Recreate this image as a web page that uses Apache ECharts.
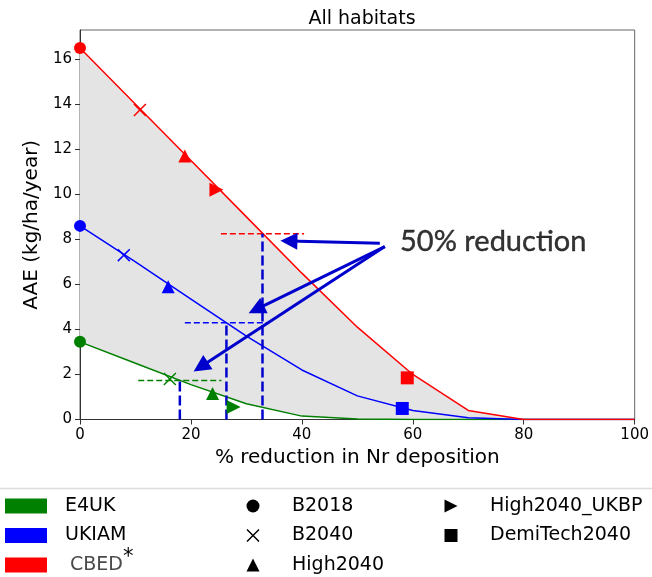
<!DOCTYPE html>
<html>
<head>
<meta charset="utf-8">
<script src="https://cdn.jsdelivr.net/npm/echarts@6/dist/echarts.min.js"></script>
<style>
  html, body { margin: 0; padding: 0; background: #fff; }
  #chart { width: 652px; height: 577px; }
</style>
</head>
<body>
<div id="chart"></div>
<script>
// % reduction in Nr deposition, sampled every 10%
const xs = [0, 10, 20, 30, 40, 50, 60, 70, 80, 90, 100];
// AAE (kg/ha/year) per model
const e4uk = [3.45, 2.5, 1.55, 0.7, 0.15, 0.02, 0, 0, 0, 0, 0];
const ukiam = [8.6, 7.0, 5.35, 3.7, 2.2, 1.05, 0.4, 0.08, 0, 0, 0];
const cbed = [16.5, 14.0, 11.5, 9.0, 6.5, 4.1, 2.0, 0.4, 0, 0, 0];

const models = ['E4UK', 'UKIAM', 'CBED'];
const modelColors = ['#008000', '#0000ff', '#ff0000'];
const modelValues = [e4uk, ukiam, cbed];

// scenario markers: [x, y] for E4UK, UKIAM, CBED (null = not shown)
const scenarios = ['B2018', 'B2040', 'High2040', 'High2040_UKBP', 'DemiTech2040'];
const b2018 = [[0, 3.45], [0, 8.6], [0, 16.5]];
const b2040 = [[16.2, 1.8], [7.9, 7.3], [10.8, 13.75]];
const high2040 = [[23.9, 1.15], [15.9, 5.9], [18.9, 11.7]];
const high2040Ukbp = [[27.7, 0.56], null, [24.6, 10.2]];
const demiTech2040 = [null, [58.1, 0.49], [59.0, 1.85]];
const scenarioPoints = [b2018, b2040, high2040, high2040Ukbp, demiTech2040];

// 50% reduction: x where AAE halves, and the half value
const halfX = [18.0, 26.4, 32.9];
const halfY = [1.73, 4.3, 8.25];
const halfSpan = 7.5;

// annotation arrows (data coords)
const arrowTails = [[54.05, 7.83], [54.95, 7.68], [54.95, 7.68]];
const arrowTips = [[37.66, 7.93], [31.78, 4.89], [21.77, 2.34]];
const noteText = '50% reduction';
const notePos = [57.7, 7.9];

const yTicks = [0, 2, 4, 6, 8, 10, 12, 14, 16];

const xMark = 'path://M0,0.8L0.8,0L5,4.2L9.2,0L10,0.8L5.8,5L10,9.2L9.2,10L5,5.8L0.8,10L0,9.2L4.2,5Z';
const rightTri = 'path://M0,0L10,5L0,10Z';
const scenarioSymbols = ['circle', xMark, 'triangle', rightTri, 'rect'];
const scenarioSizes = [12, 13, 13, 14, 13];

const chart = echarts.init(document.getElementById('chart'));

const series = [];

// grey band between CBED and E4UK
series.push({
  type: 'custom',
  name: 'band',
  silent: true,
  z: 1,
  data: [[0, 0]],
  renderItem: function (params, api) {
    const pts = [];
    xs.forEach(function (x, i) { pts.push(api.coord([x, cbed[i]])); });
    for (let i = xs.length - 1; i >= 0; i--) pts.push(api.coord([xs[i], e4uk[i]]));
    return { type: 'polygon', shape: { points: pts }, style: { fill: '#e4e4e4' } };
  }
});

models.forEach(function (m, k) {
  series.push({
    type: 'line',
    name: m,
    z: 2,
    symbol: 'none',
    color: modelColors[k],
    lineStyle: { color: modelColors[k], width: 1.5 },
    data: xs.map(function (x, i) { return [x, modelValues[k][i]]; })
  });
});

// 50% guide lines
models.forEach(function (m, k) {
  series.push({
    type: 'line', name: 'half-h-' + m, z: 3, symbol: 'none', silent: true,
    lineStyle: { color: modelColors[k], width: 1.6, type: [6, 3] },
    data: [[halfX[k] - halfSpan, halfY[k]], [halfX[k] + halfSpan, halfY[k]]]
  });
  series.push({
    type: 'line', name: 'half-v-' + m, z: 3, symbol: 'none', silent: true,
    lineStyle: { color: '#0000cc', width: 2.5, type: [10, 4] },
    data: [[halfX[k], 0], [halfX[k], halfY[k]]]
  });
});

scenarios.forEach(function (s, j) {
  const data = [];
  scenarioPoints[j].forEach(function (p, k) {
    if (p) data.push({ value: p, itemStyle: { color: modelColors[k] } });
  });
  series.push({
    type: 'scatter',
    name: s,
    z: 4,
    symbol: scenarioSymbols[j],
    symbolSize: scenarioSizes[j],
    itemStyle: { color: '#000', opacity: 1 },
    data: data
  });
});

// note text + arrows
series.push({
  type: 'scatter',
  name: 'note',
  z: 5,
  symbolSize: 0,
  silent: true,
  data: [notePos],
  label: {
    show: true, position: 'right', distance: 0,
    formatter: noteText, fontFamily: 'Lato', fontSize: 29, color: '#000',
    textBorderColor: '#000', textBorderWidth: 0.4
  },
  markLine: {
    silent: true,
    symbol: ['none', 'triangle'],
    symbolSize: 17,
    label: { show: false },
    lineStyle: { color: '#0000cd', width: 3, type: 'solid' },
    data: arrowTails.map(function (t, i) { return [{ coord: t }, { coord: arrowTips[i] }]; })
  }
});

const spacer = function (w) { return { width: w }; };

const option = {
  animation: false,
  textStyle: { fontFamily: 'DejaVu Sans' },
  title: {
    text: 'All habitats',
    left: 357,
    textAlign: 'center',
    top: 5,
    textStyle: { fontFamily: 'DejaVu Sans', fontSize: 19, fontWeight: 'normal', color: '#000' }
  },
  grid: {
    left: 80, right: 17, top: 30, bottom: 157.5,
    show: true, borderColor: '#666', borderWidth: 1, backgroundColor: 'transparent'
  },
  xAxis: {
    type: 'value', min: 0, max: 100, interval: 20,
    name: '% reduction in Nr deposition', nameLocation: 'middle', nameGap: 27,
    nameTextStyle: { fontSize: 20, color: '#000' },
    axisLine: { show: true, lineStyle: { color: '#333', width: 1 } },
    axisTick: { show: true, length: 5, lineStyle: { color: '#333' } },
    axisLabel: { fontSize: 15, color: '#000', margin: 8 },
    splitLine: { show: false }
  },
  yAxis: {
    type: 'value', min: 0, max: 17.3, interval: 2,
    name: 'AAE (kg/ha/year)', nameLocation: 'middle', nameGap: 34,
    nameTextStyle: { fontSize: 20, color: '#000' },
    axisLine: { show: true, lineStyle: { color: '#333', width: 1 } },
    axisTick: { show: true, length: 5, lineStyle: { color: '#333' }, customValues: yTicks },
    axisLabel: { fontSize: 15, color: '#000', margin: 8, customValues: yTicks },
    splitLine: { show: false }
  },
  legend: [
    {
      orient: 'vertical', left: 5, top: 495, height: 120, padding: 0, icon: 'rect',
      itemWidth: 42, itemHeight: 15, itemGap: 7.5,
      data: [
        { name: 'E4UK' },
        { name: 'UKIAM' },
        { name: 'CBED' }
      ],
      formatter: function (name) {
        return name === 'CBED' ? '{g2|}{c|CBED}' : '{g|}{t|' + name + '}';
      },
      textStyle: {
        fontSize: 19, color: '#000', lineHeight: 22,
        rich: {
          g: spacer(13),
          g2: spacer(18),
          t: { fontSize: 19, color: '#000', lineHeight: 22 },
          c: { fontSize: 19, color: '#4a4a4a', lineHeight: 22 }
        }
      }
    },
    {
      orient: 'vertical', left: 246.5, top: 495, height: 120, padding: 0,
      itemWidth: 13, itemHeight: 13, itemGap: 7.5,
      data: scenarios.slice(0, 3),
      formatter: '{g|}{t|{name}}',
      textStyle: {
        fontSize: 19, color: '#000', lineHeight: 22,
        rich: { g: spacer(27.5), t: { fontSize: 19, color: '#000', lineHeight: 22 } }
      }
    },
    {
      orient: 'vertical', left: 444.5, top: 495, height: 120, padding: 0,
      itemWidth: 13, itemHeight: 13, itemGap: 7.5,
      data: scenarios.slice(3),
      formatter: '{g|}{t|{name}}',
      textStyle: {
        fontSize: 19, color: '#000', lineHeight: 22,
        rich: { g: spacer(27.5), t: { fontSize: 19, color: '#000', lineHeight: 22 } }
      }
    }
  ],
  graphic: [
    {
      type: 'line', silent: true,
      shape: { x1: 0, y1: 488.5, x2: 652, y2: 488.5 },
      style: { stroke: '#dcdcdc', lineWidth: 1.5 }
    },
    {
      // superscript star on the CBED legend entry
      type: 'text', silent: true, left: 123, top: 547,
      style: { text: '*', fontFamily: 'DejaVu Sans', fontSize: 21, fill: '#000' }
    }
  ],
  series: series
};

chart.setOption(option);
</script>
</body>
</html>
